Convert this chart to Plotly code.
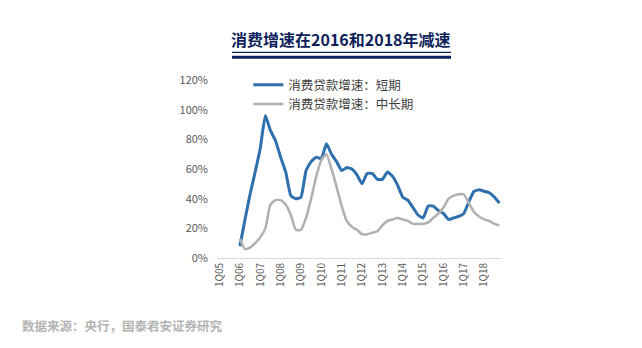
import plotly.graph_objects as go

quarters = [f"{q}Q{y:02d}" for y in range(5, 19) for q in range(1, 5)]
tick_labels = [f"1Q{y:02d}" for y in range(5, 19)]

short_term = [None, None, None, None,
              8, 26, 43, 58,
              74, 96, 86, 79,
              68, 58, 42, 40,
              41, 59, 65, 68,
              67, 77, 70, 65,
              59, 61, 60, 56,
              50, 57, 57, 53,
              53, 58, 55, 49,
              41, 39, 34, 29,
              27, 35, 35, 32,
              30, 26, 27, 28,
              30, 38, 45, 46,
              45, 44, 41, 37]

long_term = [None, None, None, None,
             13, 6, 7, 10,
             14, 20, 36, 39,
             39, 36, 29, 19,
             19, 27, 40, 55,
             66, 70, 60, 48,
             35, 25, 21, 19,
             16, 16, 17, 18,
             22, 25, 26, 27,
             26, 25, 23, 23,
             23, 24, 27, 30,
             34, 40, 42, 43,
             43, 37, 31, 28,
             26, 25, 23, 22]

name_short = "消费贷款增速：短期"
name_long = "消费贷款增速：中长期"
title_text = "消费增速在2016和2018年减速"
source_text = "数据来源：央行，国泰君安证券研究"

FONT = "Noto Sans CJK SC"

fig = go.Figure()
fig.add_trace(go.Scatter(x=quarters, y=short_term, name=name_short, mode="lines",
                         line=dict(color="#2e6fae", width=3, shape="spline", smoothing=0.4),
                         connectgaps=False))
fig.add_trace(go.Scatter(x=quarters, y=long_term, name=name_long, mode="lines",
                         line=dict(color="#b0b0b0", width=2.5, shape="spline", smoothing=0.5),
                         connectgaps=False))

fig.update_layout(
    width=642, height=348,
    margin=dict(l=217, r=140, t=80, b=90),
    paper_bgcolor="white", plot_bgcolor="white",
    font=dict(family=FONT, color="#595959"),
    showlegend=True,
    legend=dict(x=0.11, y=1.055, xanchor="left", yanchor="top",
                bgcolor="rgba(0,0,0,0)", font=dict(size=12.5, color="#404040", family=FONT),
                itemwidth=30, tracegroupgap=0),
    xaxis=dict(type="category", categoryorder="array", categoryarray=quarters,
               range=[-0.5, 55.5], tickmode="array", tickvals=tick_labels, ticktext=tick_labels,
               tickangle=-90, tickfont=dict(size=10, color="#595959", family=FONT),
               showgrid=False, showline=True, linecolor="#d9d9d9", linewidth=1,
               ticks="", zeroline=False),
    yaxis=dict(range=[0, 120], tickvals=[0, 20, 40, 60, 80, 100, 120],
               ticktext=["0%", "20%", "40%", "60%", "80%", "100%", "120%"],
               tickfont=dict(size=11, color="#595959", family=FONT),
               showgrid=False, zeroline=False, showline=False, ticks="",
               ticklabelstandoff=8),
)

# title
fig.add_annotation(text=f"<b>{title_text}</b>", xref="paper", yref="paper",
                   x=(341 - 217) / 285, y=(258 - 39) / 178, xanchor="center", yanchor="middle",
                   showarrow=False, font=dict(size=16, color="#0e1f5b", family=FONT))
fig.add_shape(type="line", xref="paper", yref="paper",
              x0=(232 - 217) / 285, x1=(451 - 217) / 285,
              y0=(258 - 52.3) / 178, y1=(258 - 52.3) / 178,
              line=dict(color="#0e1f5b", width=1.2))
fig.add_shape(type="line", xref="paper", yref="paper",
              x0=(232 - 217) / 285, x1=(451 - 217) / 285,
              y0=(258 - 57.3) / 178, y1=(258 - 57.3) / 178,
              line=dict(color="#0e1f5b", width=3))

fig.add_annotation(text=f"<b>{source_text}</b>", xref="paper", yref="paper",
                   x=(20 - 217) / 285, y=(258 - 325) / 178, xanchor="left", yanchor="middle",
                   showarrow=False, font=dict(size=12.5, color="#b4b4b4", family=FONT))

fig.write_html("out.html")
